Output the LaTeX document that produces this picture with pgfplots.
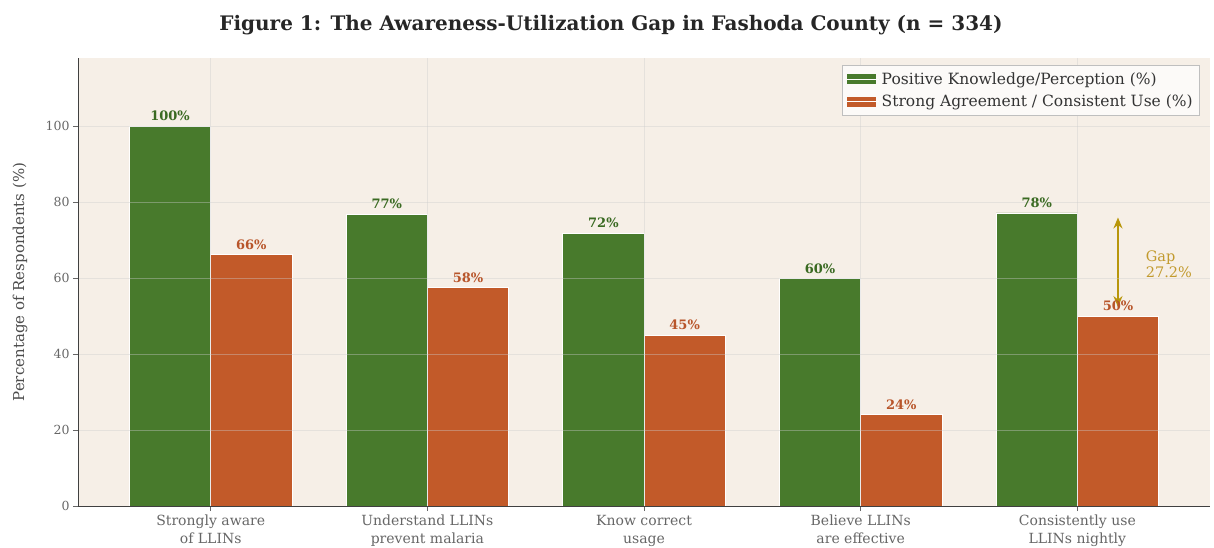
\documentclass[border=0pt]{standalone}
\usepackage{fontspec}
\setmainfont{DejaVu Serif}
\usepackage{pgfplots}
\usepackage{pgfplotstable}
\usetikzlibrary{arrows.meta}
\pgfplotsset{compat=1.18}
\definecolor{bargreen}{HTML}{487A2C}
\definecolor{barorange}{HTML}{C25A29}
\definecolor{lblgreen}{HTML}{3A6A22}
\definecolor{lblorange}{HTML}{B8552A}
\definecolor{bgbeige}{HTML}{F6EFE7}
\definecolor{gapgold}{HTML}{B8960B}
\definecolor{gaptext}{HTML}{C29A2E}
\definecolor{tickgrey}{HTML}{666666}

\pgfplotstableread{
x y lab
0 100 100\%
1 76.9 77\%
2 71.9 72\%
3 59.9 60\%
4 77.2 78\%
}\greendata
\pgfplotstableread{
x y lab
0 66.2 66\%
1 57.5 58\%
2 44.9 45\%
3 24.0 24\%
4 50.0 50\%
}\orangedata

\begin{document}
\begin{tikzpicture}[x=1pt,y=1pt]
\path[use as bounding box] (-78,-41) rectangle (1136,506);
\begin{axis}[
  at={(0,0)}, anchor=south west, scale only axis,
  width=1132pt, height=448pt,
  xmin=-0.6125, xmax=4.6125, ymin=0, ymax=118,
  axis background/.style={fill=bgbeige},
  axis x line*=bottom, axis y line*=left,
  axis line style={draw=black!75, line width=0.8pt},
  axis on top,
  ybar, bar width=0.375,
  grid=major,
  major grid style={draw=black!20, opacity=0.4, line width=0.6pt},
  xtick={0,1,2,3,4},
  xticklabels={{Strongly aware\\of LLINs},{Understand LLINs\\prevent malaria},{Know correct\\usage},{Believe LLINs\\are effective},{Consistently use\\LLINs nightly}},
  xticklabel style={align=center, font=\fontsize{14}{18}\selectfont, text=tickgrey, inner sep=4pt},
  ytick={0,20,40,60,80,100},
  yticklabel style={font=\fontsize{12.5}{14}\selectfont, text=tickgrey},
  /pgf/number format/assume math mode=true,
  tick align=outside, major tick length=5pt,
  tick style={draw=black!60, line width=0.7pt},
  ylabel={Percentage of Respondents (\%)},
  ylabel style={at={(axis description cs:-0.0512,0.5)}, anchor=center, font=\fontsize{15}{17}\selectfont, text=black!70},
  legend style={at={(0.991,0.984)}, anchor=north east, draw=black!25, fill=white!70!bgbeige, font=\fontsize{15.5}{18}\selectfont, text=black!80, row sep=5pt, inner sep=5pt, cells={anchor=west}},
  nodes near coords,
  point meta=explicit symbolic,
]
\addplot[fill=bargreen, draw=white, line width=0.8pt, bar shift=-0.1875,
  legend image code/.code={\path[fill=bargreen, draw=bargreen, line width=0.4pt] (0pt,-4.5pt) rectangle (28pt,4.5pt); \path (0pt,0pt) -- (32pt,0pt);},
  every node near coord/.append style={font=\bfseries\fontsize{13}{15}\selectfont, text=lblgreen, inner sep=5pt}]
  table[x=x, y=y, meta=lab] {\greendata};
\addlegendentry{Positive Knowledge/Perception (\%)}
\addplot[fill=barorange, draw=white, line width=0.8pt, bar shift=0.1875,
  legend image code/.code={\path[fill=barorange, draw=barorange, line width=0.4pt] (0pt,-4.5pt) rectangle (28pt,4.5pt); \path (0pt,0pt) -- (32pt,0pt);},
  every node near coord/.append style={font=\bfseries\fontsize{13}{15}\selectfont, text=lblorange, inner sep=5pt}]
  table[x=x, y=y, meta=lab] {\orangedata};
\addlegendentry{Strong Agreement / Consistent Use (\%)}
\draw[{Stealth[length=11pt,width=9pt]}-{Stealth[length=11pt,width=9pt]}, gapgold, line width=1.8pt] (axis cs:4.1875,52.4) -- (axis cs:4.1875,76);
\node[anchor=west, align=left, text=gaptext, font=\fontsize{14.5}{16}\selectfont] at (axis cs:4.3,63.6) {Gap\\27.2\%};
\end{axis}
\node[font=\bfseries\fontsize{20}{22}\selectfont, text=black!85] at (533,481) {Figure 1: The Awareness-Utilization Gap in Fashoda County (n = 334)};
\end{tikzpicture}
\end{document}
